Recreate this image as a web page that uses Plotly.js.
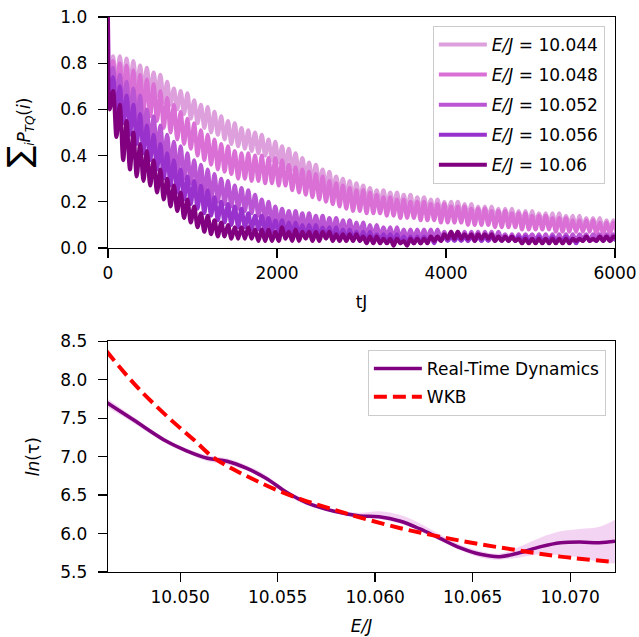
<!DOCTYPE html>
<html>
<head>
<meta charset="utf-8">
<script src="https://cdn.plot.ly/plotly-3.0.1.min.js"></script>
<style>html,body{margin:0;padding:0;background:#fff;}#chart{width:639px;height:637px;}</style>
</head>
<body>
<div id="chart"></div>
<script>
// ---------- Top panel: sum_i P_TQ(i) vs tJ ----------
// sample times: 0, 20, then every 40 (alternating peaks / troughs of the oscillation)
const tJ = [0, 20];
for (let t = 60; t <= 6020; t += 40) tJ.push(t);

const seriesLabels = ['10.044', '10.048', '10.052', '10.056', '10.06'];
const seriesColors = ['#dda0dd', '#da70d6', '#ba55d3', '#9932cc', '#800080'];

const p10044 = [1.0, 0.64,
  0.83,0.71,0.83,0.72,0.82,0.70,0.81,0.69,0.79,0.68,
  0.78,0.67,0.76,0.66,0.75,0.63,0.72,0.62,0.69,0.60,
  0.68,0.58,0.67,0.56,0.64,0.54,0.62,0.52,0.61,0.50,
  0.59,0.49,0.57,0.47,0.55,0.45,0.54,0.44,0.52,0.43,
  0.51,0.42,0.50,0.41,0.49,0.40,0.47,0.38,0.46,0.37,
  0.44,0.35,0.43,0.34,0.41,0.32,0.39,0.31,0.37,0.29,
  0.36,0.28,0.34,0.26,0.33,0.25,0.31,0.24,0.30,0.22,
  0.29,0.21,0.28,0.21,0.27,0.20,0.26,0.19,0.25,0.19,
  0.25,0.18,0.24,0.18,0.24,0.17,0.23,0.17,0.23,0.16,
  0.22,0.16,0.22,0.16,0.21,0.15,0.21,0.15,0.20,0.15,
  0.20,0.14,0.20,0.14,0.19,0.14,0.19,0.13,0.18,0.13,
  0.18,0.13,0.18,0.13,0.17,0.12,0.17,0.12,0.17,0.12,
  0.16,0.11,0.16,0.11,0.16,0.11,0.15,0.11,0.15,0.10,
  0.15,0.10,0.15,0.10,0.14,0.10,0.14,0.09,0.14,0.09,
  0.13,0.09,0.13,0.09,0.13,0.08,0.12,0.08,0.12,0.08];

const p10048 = [1.0, 0.64,
  0.81,0.67,0.80,0.65,0.79,0.63,0.77,0.61,0.75,0.59,
  0.73,0.57,0.71,0.55,0.68,0.52,0.65,0.50,0.62,0.47,
  0.59,0.45,0.56,0.43,0.54,0.40,0.51,0.38,0.49,0.36,
  0.47,0.34,0.45,0.33,0.44,0.32,0.42,0.30,0.41,0.30,
  0.41,0.29,0.40,0.29,0.40,0.28,0.39,0.28,0.39,0.27,
  0.38,0.27,0.36,0.25,0.35,0.24,0.34,0.23,0.33,0.22,
  0.32,0.21,0.31,0.20,0.29,0.19,0.28,0.18,0.27,0.17,
  0.26,0.16,0.25,0.16,0.25,0.15,0.24,0.15,0.23,0.15,
  0.22,0.14,0.22,0.14,0.21,0.13,0.21,0.13,0.20,0.13,
  0.20,0.12,0.20,0.12,0.19,0.12,0.19,0.11,0.19,0.11,
  0.18,0.11,0.18,0.11,0.18,0.10,0.17,0.10,0.17,0.10,
  0.17,0.10,0.16,0.09,0.16,0.09,0.16,0.09,0.15,0.09,
  0.15,0.08,0.15,0.08,0.14,0.08,0.14,0.08,0.14,0.08,
  0.13,0.07,0.13,0.07,0.13,0.07,0.12,0.07,0.12,0.07,
  0.12,0.07,0.12,0.06,0.11,0.06,0.11,0.06,0.11,0.06];

const p10052 = [1.0, 0.63,
  0.78,0.63,0.75,0.60,0.72,0.56,0.69,0.53,0.66,0.50,
  0.60,0.45,0.57,0.42,0.53,0.38,0.49,0.35,0.46,0.32,
  0.44,0.30,0.41,0.28,0.38,0.25,0.36,0.23,0.34,0.21,
  0.32,0.20,0.30,0.19,0.29,0.18,0.27,0.17,0.26,0.16,
  0.25,0.15,0.23,0.14,0.21,0.12,0.20,0.11,0.18,0.10,
  0.17,0.10,0.16,0.09,0.16,0.09,0.15,0.08,0.15,0.08,
  0.14,0.08,0.14,0.07,0.13,0.07,0.13,0.07,0.12,0.06,
  0.12,0.06,0.11,0.06,0.11,0.05,0.10,0.05,0.10,0.05,
  0.09,0.05,0.09,0.04,0.09,0.04,0.08,0.04,0.08,0.04,
  0.08,0.04,0.08,0.04,0.08,0.04,0.08,0.04,0.07,0.04,
  0.07,0.04,0.07,0.04,0.07,0.03,0.07,0.04,0.07,0.03,
  0.07,0.04,0.07,0.03,0.07,0.04,0.06,0.03,0.06,0.03,
  0.06,0.03,0.06,0.04,0.06,0.03,0.06,0.03,0.06,0.03,
  0.06,0.03,0.06,0.03,0.06,0.03,0.06,0.03,0.06,0.04,
  0.06,0.03,0.06,0.04,0.06,0.03,0.06,0.04,0.06,0.04];

const p10056 = [1.0, 0.62,
  0.74,0.58,0.70,0.54,0.66,0.49,0.62,0.45,0.58,0.41,
  0.53,0.38,0.49,0.34,0.45,0.30,0.41,0.27,0.38,0.24,
  0.34,0.21,0.31,0.19,0.29,0.17,0.27,0.15,0.25,0.14,
  0.22,0.12,0.20,0.11,0.19,0.10,0.18,0.09,0.17,0.09,
  0.15,0.08,0.14,0.08,0.14,0.07,0.13,0.07,0.12,0.06,
  0.12,0.06,0.11,0.06,0.11,0.06,0.10,0.05,0.10,0.05,
  0.10,0.05,0.09,0.05,0.09,0.04,0.09,0.04,0.08,0.04,
  0.08,0.04,0.07,0.03,0.07,0.03,0.07,0.03,0.06,0.03,
  0.06,0.03,0.06,0.03,0.06,0.02,0.05,0.02,0.05,0.02,
  0.05,0.02,0.05,0.03,0.05,0.02,0.05,0.03,0.05,0.03,
  0.05,0.03,0.05,0.03,0.05,0.03,0.05,0.03,0.05,0.03,
  0.05,0.03,0.05,0.03,0.05,0.03,0.05,0.03,0.05,0.03,
  0.05,0.03,0.05,0.03,0.04,0.03,0.05,0.03,0.04,0.03,
  0.05,0.03,0.04,0.03,0.05,0.03,0.04,0.02,0.04,0.03,
  0.05,0.03,0.04,0.03,0.05,0.03,0.05,0.03,0.04,0.03];

const p10060 = [1.0, 0.60,
  0.68,0.48,0.62,0.38,0.55,0.34,0.50,0.31,0.45,0.29,
  0.42,0.27,0.38,0.24,0.34,0.21,0.30,0.18,0.27,0.16,
  0.24,0.13,0.21,0.11,0.18,0.09,0.15,0.07,0.14,0.06,
  0.12,0.05,0.11,0.05,0.10,0.04,0.09,0.04,0.09,0.04,
  0.09,0.04,0.08,0.03,0.08,0.03,0.08,0.03,0.07,0.03,
  0.09,0.04,0.07,0.03,0.08,0.03,0.07,0.04,0.07,0.03,
  0.07,0.03,0.07,0.04,0.07,0.03,0.06,0.03,0.06,0.03,
  0.06,0.03,0.06,0.03,0.05,0.02,0.05,0.02,0.05,0.02,
  0.04,0.02,0.04,0.01,0.04,0.02,0.03,0.01,0.04,0.02,
  0.04,0.02,0.04,0.02,0.05,0.03,0.05,0.03,0.06,0.04,
  0.07,0.04,0.07,0.04,0.06,0.04,0.06,0.03,0.06,0.04,
  0.06,0.04,0.06,0.03,0.05,0.03,0.05,0.03,0.05,0.03,
  0.04,0.02,0.04,0.02,0.04,0.02,0.04,0.02,0.04,0.02,
  0.04,0.02,0.04,0.02,0.04,0.02,0.04,0.03,0.04,0.03,
  0.05,0.03,0.04,0.03,0.05,0.03,0.05,0.03,0.05,0.04];

const topSeries = [p10044, p10048, p10052, p10056, p10060];

// ---------- Bottom panel: ln(tau) vs E/J ----------
const eRT = [10.0462, 10.0476, 10.0493, 10.0503, 10.0514, 10.0524, 10.0534, 10.0544, 10.0555, 10.0565,
             10.0579, 10.0592, 10.0602, 10.0613, 10.0623, 10.0633, 10.0644, 10.0654, 10.0664, 10.0674,
             10.0685, 10.0695, 10.0705, 10.0715, 10.0723];
const lnTauRT = [7.71, 7.48, 7.20, 7.08, 6.98, 6.94, 6.85, 6.72, 6.53, 6.40,
                 6.29, 6.23, 6.22, 6.16, 6.06, 5.94, 5.81, 5.73, 5.70, 5.75,
                 5.83, 5.88, 5.89, 5.88, 5.90];
const lnTauUpper = [7.77, 7.52, 7.23, 7.11, 7.02, 6.98, 6.89, 6.76, 6.56, 6.43,
                    6.31, 6.27, 6.29, 6.24, 6.13, 5.99, 5.85, 5.77, 5.74, 5.83,
                    5.95, 6.03, 6.06, 6.09, 6.18];
const lnTauLower = [7.65, 7.44, 7.17, 7.05, 6.94, 6.90, 6.82, 6.69, 6.50, 6.37,
                    6.27, 6.21, 6.19, 6.13, 6.03, 5.91, 5.78, 5.69, 5.66, 5.69,
                    5.73, 5.72, 5.69, 5.63, 5.61];
const eWKB = [10.0462, 10.0476, 10.0486, 10.0497, 10.0507, 10.0517, 10.0527, 10.0538, 10.0551, 10.0565,
              10.0579, 10.0592, 10.0613, 10.0633, 10.0654, 10.0674, 10.0695, 10.0723];
const lnTauWKB = [8.38, 7.96, 7.70, 7.44, 7.22, 6.99, 6.84, 6.70, 6.55, 6.42,
                  6.31, 6.21, 6.07, 5.96, 5.86, 5.78, 5.70, 5.63];

const FONT = 'DejaVu Sans, sans-serif';
const FS = 17;

const traces = [];
topSeries.forEach((ys, k) => {
  traces.push({
    type: 'scatter', mode: 'lines',
    x: tJ.slice(0, ys.length), y: ys,
    xaxis: 'x', yaxis: 'y',
    name: '<i>E/J</i> = ' + seriesLabels[k],
    legendgroup: 'g' + k,
    line: {color: seriesColors[k], width: 4, shape: 'spline', smoothing: 1},
    hoverinfo: 'skip'
  });
});

traces.push({
  type: 'scatter', mode: 'lines', x: eRT, y: lnTauLower,
  xaxis: 'x2', yaxis: 'y2', line: {width: 0, color: 'rgba(0,0,0,0)', shape: 'spline'},
  showlegend: false, legend: 'legend2', hoverinfo: 'skip'
});
traces.push({
  type: 'scatter', mode: 'lines', x: eRT, y: lnTauUpper,
  xaxis: 'x2', yaxis: 'y2', line: {width: 0, color: 'rgba(0,0,0,0)', shape: 'spline'},
  fill: 'tonexty', fillcolor: 'rgba(218,112,214,0.3)',
  showlegend: false, legend: 'legend2', hoverinfo: 'skip'
});
traces.push({
  type: 'scatter', mode: 'lines', x: eRT, y: lnTauRT,
  xaxis: 'x2', yaxis: 'y2', name: 'Real-Time Dynamics', legend: 'legend2', legendgroup: 'rt',
  line: {color: '#800080', width: 3.5, shape: 'spline'}, hoverinfo: 'skip'
});
traces.push({
  type: 'scatter', mode: 'lines', x: eWKB, y: lnTauWKB,
  xaxis: 'x2', yaxis: 'y2', name: 'WKB', legend: 'legend2', legendgroup: 'wkb',
  line: {color: '#ff0000', width: 4, dash: '13px,6px', shape: 'spline'}, hoverinfo: 'skip'
});

const axBase = {
  showline: true, mirror: true, linecolor: '#000', linewidth: 1.3,
  ticks: 'outside', ticklen: 9, tickwidth: 1.3, tickcolor: '#000',
  showgrid: false, zeroline: false, automargin: false,
  tickfont: {family: FONT, size: FS, color: '#000'}
};

const layout = {
  width: 639, height: 637,
  margin: {l: 108, r: 24, t: 17, b: 65},
  paper_bgcolor: '#fff', plot_bgcolor: '#fff',
  font: {family: FONT, size: FS, color: '#000'},
  xaxis: Object.assign({}, axBase, {
    domain: [0, 1], anchor: 'y', range: [0, 6000], tick0: 0, dtick: 2000,
    title: {text: 'tJ', font: {family: FONT, size: FS}, standoff: 14}
  }),
  yaxis: Object.assign({}, axBase, {
    domain: [0.5838, 1], anchor: 'x', range: [0, 1], tick0: 0, dtick: 0.2, tickformat: '.1f',
    ticklabelstandoff: 7,
    title: {text: '<span style="font-size:32px">∑</span><sub><i>i</i></sub><i>P</i><sub><i>TQ</i></sub>(<i>i</i>)',
            font: {family: FONT, size: FS}, standoff: 30}
  }),
  xaxis2: Object.assign({}, axBase, {
    domain: [0, 1], anchor: 'y2', range: [10.0463, 10.0723], tick0: 10.05, dtick: 0.005, tickformat: '.3f',
    title: {text: '<i>E/J</i>', font: {family: FONT, size: FS}, standoff: 14}
  }),
  yaxis2: Object.assign({}, axBase, {
    domain: [0, 0.4155], anchor: 'x2', range: [5.5, 8.5], tick0: 5.5, dtick: 0.5, tickformat: '.1f',
    ticklabelstandoff: 7,
    title: {text: '<i>ln</i>(τ)', font: {family: FONT, size: FS}, standoff: 16}
  }),
  legend: {
    x: 0.98, xanchor: 'right', y: 0.984, yanchor: 'top',
    bgcolor: 'rgba(255,255,255,0.85)', bordercolor: '#cccccc', borderwidth: 1,
    font: {family: FONT, size: FS, color: '#000'}, tracegroupgap: 5, itemwidth: 48,
    traceorder: 'grouped'
  },
  legend2: {
    x: 0.982, xanchor: 'right', y: 0.40, yanchor: 'top',
    bgcolor: 'rgba(255,255,255,0.85)', bordercolor: '#cccccc', borderwidth: 1,
    font: {family: FONT, size: FS, color: '#000'}, tracegroupgap: 3, itemwidth: 48,
    traceorder: 'grouped'
  },
  showlegend: true
};

Plotly.newPlot('chart', traces, layout, {staticPlot: true, displayModeBar: false});
</script>
</body>
</html>
